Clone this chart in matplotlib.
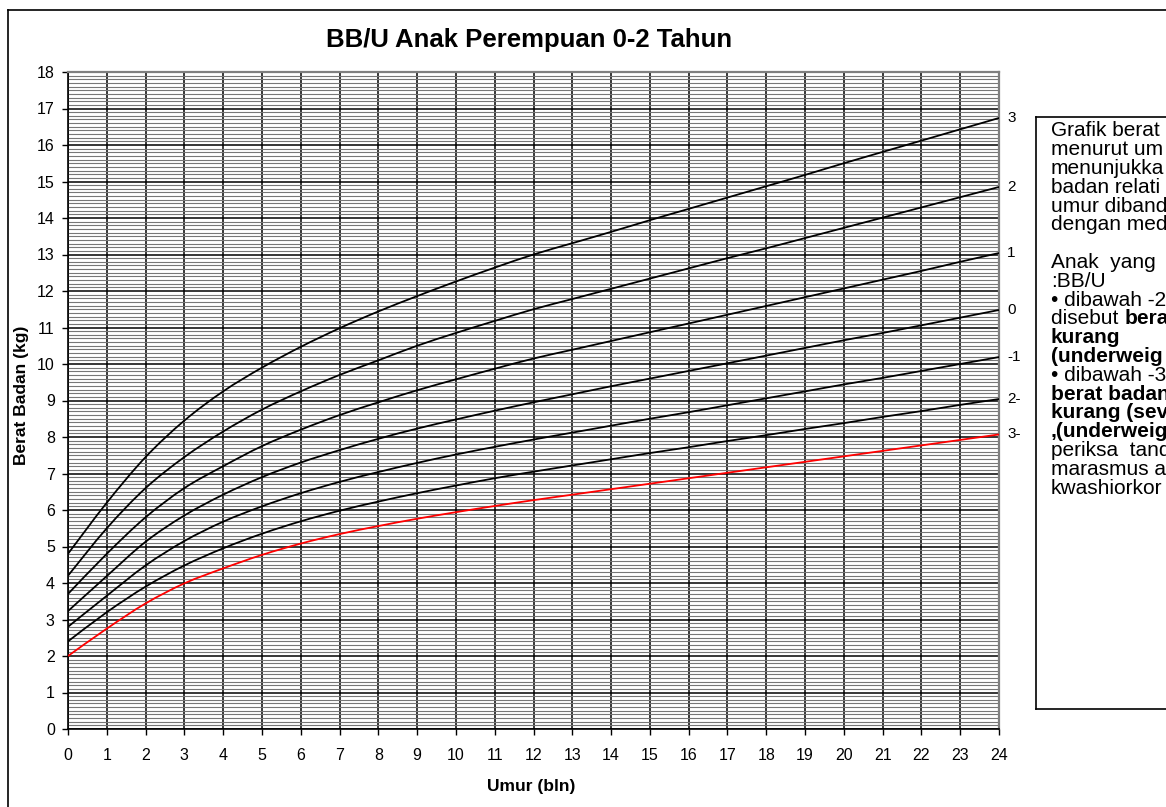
import matplotlib
matplotlib.use('Agg')
import matplotlib.pyplot as plt
from matplotlib.lines import Line2D
from matplotlib.path import Path
from matplotlib.patches import PathPatch
import numpy as np

# ---------------- data (kg) ----------------
months = list(range(25))
sd_neg3 = [2.0, 2.75, 3.44, 3.99, 4.40, 4.77, 5.08, 5.34, 5.56, 5.76, 5.94, 6.11, 6.27,
           6.42, 6.57, 6.72, 6.87, 7.02, 7.17, 7.32, 7.47, 7.62, 7.77, 7.92, 8.07]
sd_neg2 = [2.4, 3.2, 3.9, 4.48, 4.95, 5.35, 5.69, 5.98, 6.23, 6.46, 6.67, 6.87, 7.05,
           7.22, 7.39, 7.56, 7.72, 7.89, 8.05, 8.22, 8.38, 8.55, 8.71, 8.88, 9.04]
sd_neg1 = [2.8, 3.65, 4.48, 5.15, 5.68, 6.10, 6.46, 6.77, 7.04, 7.29, 7.52, 7.73, 7.93,
           8.12, 8.31, 8.50, 8.68, 8.87, 9.06, 9.25, 9.44, 9.62, 9.81, 10.00, 10.19]
sd_0 = [3.23, 4.19, 5.13, 5.85, 6.42, 6.90, 7.30, 7.64, 7.95, 8.23, 8.48, 8.72, 8.95,
        9.17, 9.39, 9.60, 9.81, 10.02, 10.23, 10.44, 10.65, 10.85, 11.06, 11.27, 11.48]
sd_pos1 = [3.7, 4.8, 5.8, 6.6, 7.2, 7.75, 8.2, 8.6, 8.95, 9.28, 9.58, 9.87, 10.15,
           10.39, 10.63, 10.87, 11.11, 11.35, 11.59, 11.83, 12.07, 12.31, 12.55, 12.80, 13.04]
sd_pos2 = [4.2, 5.5, 6.6, 7.45, 8.15, 8.75, 9.25, 9.70, 10.10, 10.50, 10.85, 11.18, 11.50,
           11.78, 12.06, 12.34, 12.62, 12.90, 13.17, 13.45, 13.73, 14.01, 14.29, 14.57, 14.85]
sd_pos3 = [4.8, 6.2, 7.45, 8.45, 9.25, 9.90, 10.47, 10.98, 11.44, 11.86, 12.26, 12.64, 13.00,
           13.31, 13.62, 13.94, 14.25, 14.56, 14.87, 15.18, 15.50, 15.81, 16.12, 16.43, 16.74]
series = [sd_pos3, sd_pos2, sd_pos1, sd_0, sd_neg1, sd_neg2, sd_neg3]
series_labels = ["3", "2", "1", "0", "-1", "2-", "3-"]
series_colors = ["black"] * 6 + ["red"]

x_ticks = list(range(25))
y_ticks = list(range(19))

title = "BB/U Anak Perempuan 0-2 Tahun"
xlabel = "Umur (bln)"
ylabel = "Berat Badan (kg)"

# text box lines: list of segments (text, bold)
box_lines = [
    [("Grafik berat", False)],
    [("menurut um", False)],
    [("menunjukka", False)],
    [("badan relati", False)],
    [("umur diband", False)],
    [("dengan med", False)],
    None,
    [("Anak  yang", False)],
    [(":BB/U", False)],
    [("\u2022 dibawah -2", False)],
    [("disebut ", False), ("bera", True)],
    [("kurang", True)],
    [("(underweig", True)],
    [("\u2022 dibawah -3", False)],
    [("berat badan", True)],
    [("kurang (sev", True)],
    [(",(underweig", True)],
    [("periksa  tand", False)],
    [("marasmus a", False)],
    [("kwashiorkor", False)],
]

# ---------------- figure ----------------
W, H = 1166, 807
plt.rcParams['font.family'] = ['Liberation Sans', 'DejaVu Sans']
fig = plt.figure(figsize=(W / 100, H / 100), dpi=100)


def fx(px):
    return px / W


def fy(py):
    return 1 - py / H


def smooth_path(xs, ys):
    """Excel-style smoothed line: cubic Bezier through every data point."""
    xs = np.asarray(xs, float)
    ys = np.asarray(ys, float)
    n = len(xs)
    verts = [(xs[0], ys[0])]
    codes = [Path.MOVETO]
    for i in range(n - 1):
        i0 = max(i - 1, 0)
        i3 = min(i + 2, n - 1)
        c1 = (xs[i] + (xs[i + 1] - xs[i0]) / 6, ys[i] + (ys[i + 1] - ys[i0]) / 6)
        c2 = (xs[i + 1] - (xs[i3] - xs[i]) / 6, ys[i + 1] - (ys[i3] - ys[i]) / 6)
        verts += [c1, c2, (xs[i + 1], ys[i + 1])]
        codes += [Path.CURVE4] * 3
    return Path(verts, codes)


ax = fig.add_axes([fx(68), fy(729), fx(999) - fx(68), fy(72) - fy(729)])
ax.set_xlim(0, 24)
ax.set_ylim(0, 18)
ax.set_xticks(x_ticks)
ax.set_yticks(y_ticks)
ax.set_yticks(np.arange(0, 18.001, 0.1), minor=True)
ax.set_axisbelow(True)
ax.grid(which='minor', axis='y', color='#777777', lw=0.8)
ax.grid(which='major', axis='both', color='black', lw=1.1)
ax.tick_params(axis='y', which='minor', length=0)
ax.tick_params(axis='both', which='major', labelsize=11.5, length=4.5,
               width=1, color='black')
ax.tick_params(axis='y', pad=5)
ax.tick_params(axis='x', pad=9)

for sp in ['left', 'bottom']:
    ax.spines[sp].set_color('black')
    ax.spines[sp].set_linewidth(1.2)
for sp in ['top', 'right']:
    ax.spines[sp].set_color('#7f7f7f')
    ax.spines[sp].set_linewidth(1.6)

for vals, lab, col in zip(series, series_labels, series_colors):
    patch = PathPatch(smooth_path(months, vals), facecolor='none',
                      edgecolor=col, lw=1.3, zorder=3)
    ax.add_patch(patch)
    ax.annotate(lab, xy=(months[-1], vals[-1]), xytext=(6, 0),
                textcoords='offset points', ha='left', va='center',
                fontsize=11, annotation_clip=False)

# title and axis labels
fig.text(fx(529), fy(40), title, ha='center', va='center',
         fontsize=18.5, fontweight='bold')
fig.text(fx(531), fy(786), xlabel, ha='center', va='center',
         fontsize=12.5, fontweight='bold')
fig.text(fx(22), fy(395), ylabel, ha='center', va='center',
         fontsize=12.5, fontweight='bold', rotation=90)

# outer chart border
fig.add_artist(Line2D([fx(8), fx(8)], [0, fy(10)], color='black', lw=1.2,
                      transform=fig.transFigure))
fig.add_artist(Line2D([fx(8), 1], [fy(10), fy(10)], color='black', lw=1.2,
                      transform=fig.transFigure))

# text box border
bx0, by0, by1 = 1036, 117, 709
fig.add_artist(Line2D([fx(bx0), fx(bx0)], [fy(by1), fy(by0)], color='black',
                      lw=1.2, transform=fig.transFigure))
fig.add_artist(Line2D([fx(bx0), 1], [fy(by0), fy(by0)], color='black',
                      lw=1.2, transform=fig.transFigure))
fig.add_artist(Line2D([fx(bx0), 1], [fy(by1), fy(by1)], color='black',
                      lw=1.2, transform=fig.transFigure))

renderer = fig.canvas.get_renderer()
line_y0 = 131
line_dy = 18.8
tx0 = 1051
for i, segs in enumerate(box_lines):
    if segs is None:
        continue
    y = line_y0 + i * line_dy
    xpos = tx0
    for txt, bold in segs:
        t = fig.text(fx(xpos), fy(y), txt, ha='left', va='center',
                     fontsize=15, fontweight='bold' if bold else 'normal')
        bb = t.get_window_extent(renderer=renderer)
        xpos += bb.width

fig.savefig('out.png', dpi=100)
